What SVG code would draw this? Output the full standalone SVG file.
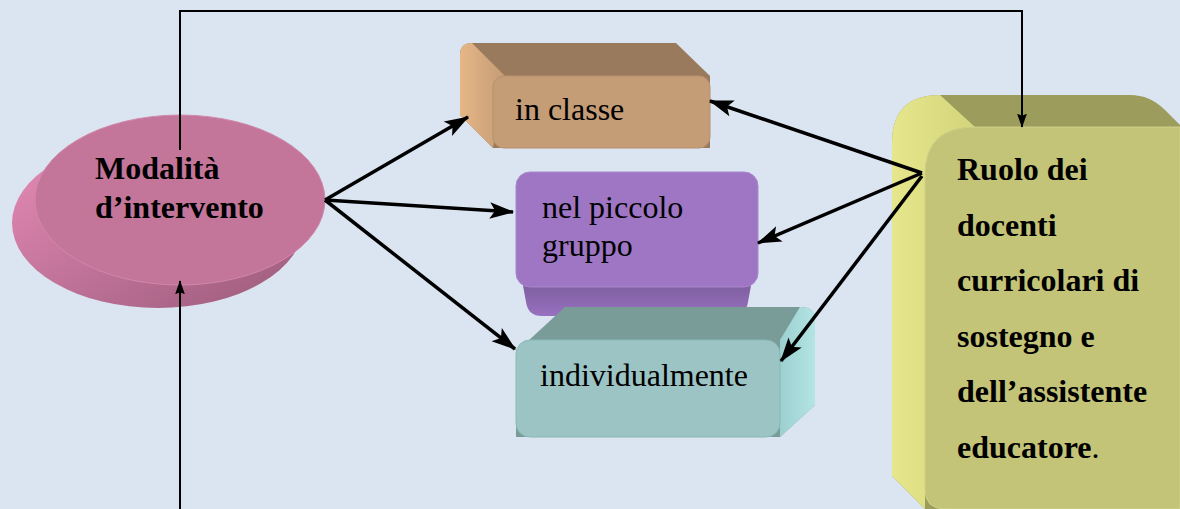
<svg xmlns="http://www.w3.org/2000/svg" width="1180" height="509" viewBox="0 0 1180 509">
<style>
.lbl{font-family:"Liberation Serif","Times New Roman",serif;font-size:32px;fill:#000}
.b{font-weight:bold}
.c{stroke:#000;stroke-width:3.5;fill:none}
.t{stroke:#000;stroke-width:2;fill:none}
</style>
<defs>
<marker id="ah" viewBox="0 0 10 10" refX="9.5" refY="5" markerWidth="7" markerHeight="7" orient="auto" markerUnits="strokeWidth"><path d="M0,1.6 L10,5 L0,8.4 L2.2,5 z" fill="#000"/></marker>
<marker id="ah2" viewBox="0 0 10 10" refX="9.5" refY="5" markerWidth="7" markerHeight="7" orient="auto" markerUnits="strokeWidth"><path d="M0,1.5 L10,5 L0,8.5 L1.5,5 z" fill="#000"/></marker>
<linearGradient id="gPink" x1="0" y1="0" x2="1" y2="1"><stop offset="0" stop-color="#e88cb8"/><stop offset="1" stop-color="#9a5a7a"/></linearGradient>
<linearGradient id="gTan" x1="0" y1="0" x2="1" y2="0"><stop offset="0" stop-color="#e6b686"/><stop offset="1" stop-color="#c49c76"/></linearGradient>
<linearGradient id="gPur" x1="0" y1="0" x2="0" y2="1"><stop offset="0" stop-color="#7a5c9a"/><stop offset="1" stop-color="#9870c0"/></linearGradient>
<linearGradient id="gTeal" x1="0" y1="0" x2="1" y2="0"><stop offset="0" stop-color="#9cd0d0"/><stop offset="1" stop-color="#b4e4e4"/></linearGradient>
<linearGradient id="gYel" x1="0" y1="0" x2="1" y2="0"><stop offset="0" stop-color="#e6e68c"/><stop offset="1" stop-color="#d4d47c"/></linearGradient>
</defs>
<rect width="1180" height="509" fill="#dbe5f1"/>

<g id="node-modalita">
<ellipse cx="158" cy="223" rx="146" ry="85" fill="url(#gPink)"/>
<ellipse cx="180" cy="200" rx="145" ry="85" fill="#c4769a" stroke="#d088aa" stroke-width="1"/>
<text class="lbl b" x="95" y="179">Modalità</text>
<text class="lbl b" x="95" y="218">d’intervento</text>
</g>

<g id="node-inclasse">
<path d="M472,43 L676,43 L710,76 L710,148 L493,148 L460,115 L460,55 Q460,43 472,43 Z" fill="#9a7a5c"/>
<path d="M460,55 Q460,43 472,43 L505,76 L493,148 L460,115 Z" fill="url(#gTan)"/>
<rect x="493" y="76" width="217" height="72" rx="11" fill="#c49c76" stroke="#b89070" stroke-width="1"/>
<text class="lbl" x="515" y="120">in classe</text>
</g>

<g id="node-piccolo">
<path d="M522,280 L526,302 Q528,316 542,316 L732,316 Q746,316 748,302 L752,280 Z" fill="url(#gPur)"/>
<rect x="516" y="172" width="242" height="115" rx="14" fill="#9e76c4" stroke="#aa86cc" stroke-width="1"/>
<text class="lbl" x="542" y="218">nel piccolo</text>
<text class="lbl" x="542" y="256">gruppo</text>
</g>

<g id="node-individualmente">
<path d="M565,307 L800,307 Q815,307 815,320 L815,405 L780,437 L516,437 L516,352 Z" fill="#7a9c98"/>
<path d="M800,307 Q815,307 815,320 L815,405 L780,437 L780,340 Z" fill="url(#gTeal)"/>
<rect x="516" y="340" width="264" height="97" rx="14" fill="#9cc4c4" stroke="#8ab8b8" stroke-width="1"/>
<text class="lbl" x="540" y="386">individualmente</text>
</g>

<g id="node-ruolo">
<path d="M940,95 L1130,95 Q1150,95 1165,110 L1180,125 L1180,509 L925,509 L892,476 L892,143 Q892,95 940,95 Z" fill="#9c9c5c"/>
<path d="M892,143 Q892,95 940,95 L975,127 Q925,127 925,175 L925,509 L892,476 Z" fill="url(#gYel)"/>
<path d="M975,127 L1180,127 L1180,509 L945,509 Q925,509 925,489 L925,175 Q925,127 975,127 Z" fill="#c4c478" stroke="#d0d088" stroke-width="1"/>
<text class="lbl b" x="957" y="180">Ruolo dei</text>
<text class="lbl b" x="957" y="236">docenti</text>
<text class="lbl b" x="957" y="291">curricolari di</text>
<text class="lbl b" x="957" y="347">sostegno e</text>
<text class="lbl b" x="957" y="402">dell’assistente</text>
<text class="lbl b" x="957" y="458">educatore<tspan font-weight="normal">.</tspan></text>
</g>

<g id="connectors">
<polyline class="t" points="180,150 180,11 1022,11 1022,127" marker-end="url(#ah2)"/>
<line class="t" x1="180" y1="509" x2="180" y2="281" marker-end="url(#ah2)"/>
<line class="c" x1="325" y1="200" x2="468" y2="117" marker-end="url(#ah)"/>
<line class="c" x1="325" y1="200" x2="513" y2="212" marker-end="url(#ah)"/>
<line class="c" x1="325" y1="200" x2="515" y2="349" marker-end="url(#ah)"/>
<line class="c" x1="922" y1="173" x2="710" y2="101" marker-end="url(#ah)"/>
<line class="c" x1="922" y1="173" x2="758" y2="243" marker-end="url(#ah)"/>
<line class="c" x1="922" y1="176" x2="781" y2="361" marker-end="url(#ah)"/>
</g>
</svg>
